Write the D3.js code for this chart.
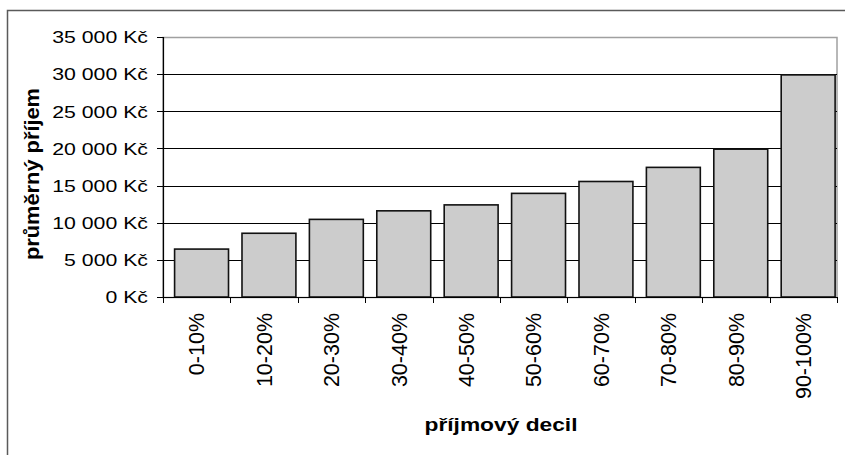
<!DOCTYPE html>
<html>
<head>
<meta charset="utf-8">
<script src="https://cdn.jsdelivr.net/npm/d3@7"></script>
<style>
  html, body { margin: 0; padding: 0; background: #fff; }
  svg { display: block; }
  text { font-family: "Liberation Sans", Arial, sans-serif; fill: #000; }
</style>
</head>
<body>
<svg id="chart" width="845" height="455"></svg>
<script>
const categories = ["0-10%", "10-20%", "20-30%", "30-40%", "40-50%", "50-60%", "60-70%", "70-80%", "80-90%", "90-100%"];
const values = [6450, 8580, 10450, 11600, 12400, 13950, 15550, 17450, 19900, 29900];
const yTicks = [0, 5000, 10000, 15000, 20000, 25000, 30000, 35000];
const yTitle = "průměrný příjem";
const xTitle = "příjmový decil";

const svg = d3.select("#chart");
const plot = { left: 163, right: 837, top: 37, bottom: 297 };

// outer chart frame (clipped by the window)
svg.append("rect")
  .attr("x", 7.5).attr("y", 10.5)
  .attr("width", 1000).attr("height", 1000)
  .attr("fill", "none").attr("stroke", "#5a5a5a").attr("stroke-width", 1.5);

const x = d3.scaleBand().domain(categories).range([plot.left, plot.right]).padding(0);
const y = d3.scaleLinear().domain([0, 35000]).range([plot.bottom, plot.top]);
const fmt = v => (v === 0 ? "0" : d3.format(",")(v).replace(/,/g, " ")) + " Kč";

// plot area border (gray top/right)
svg.append("rect")
  .attr("x", plot.left).attr("y", plot.top + 0.5)
  .attr("width", plot.right - plot.left).attr("height", plot.bottom - plot.top)
  .attr("fill", "none").attr("stroke", "#a0a0a0").attr("stroke-width", 1.5);

// gridlines
svg.append("g").selectAll("line")
  .data(yTicks.filter(t => t > 0 && t < 35000))
  .join("line")
  .attr("x1", plot.left).attr("x2", plot.right)
  .attr("y1", d => Math.round(y(d)) + 0.5).attr("y2", d => Math.round(y(d)) + 0.5)
  .attr("stroke", "#000").attr("stroke-width", 1);

// bars
const bw = x.bandwidth();
svg.append("g").selectAll("rect")
  .data(categories)
  .join("rect")
  .attr("x", d => x(d) + bw * 0.172)
  .attr("width", bw * 0.8)
  .attr("y", (d, i) => y(values[i]))
  .attr("height", (d, i) => y(0) - y(values[i]))
  .attr("fill", "#cccccc").attr("stroke", "#111").attr("stroke-width", 1.6);

// y axis
const yAxis = svg.append("g");
yAxis.append("line")
  .attr("x1", plot.left + 0.5).attr("x2", plot.left + 0.5)
  .attr("y1", plot.top).attr("y2", plot.bottom + 1)
  .attr("stroke", "#000").attr("stroke-width", 1.2);
yAxis.selectAll("line.tick")
  .data(yTicks).join("line").attr("class", "tick")
  .attr("x1", plot.left - 6).attr("x2", plot.left)
  .attr("y1", d => Math.round(y(d)) + 0.5).attr("y2", d => Math.round(y(d)) + 0.5)
  .attr("stroke", "#000").attr("stroke-width", 1);
yAxis.selectAll("text")
  .data(yTicks).join("text")
  .attr("transform", d => `translate(148,${y(d)}) scale(1.23,1)`)
  .attr("text-anchor", "end")
  .attr("dy", "0.36em")
  .style("font-size", "17.3px")
  .text(fmt);

// x axis
const xAxis = svg.append("g");
xAxis.append("line")
  .attr("x1", plot.left).attr("x2", plot.right)
  .attr("y1", plot.bottom + 0.5).attr("y2", plot.bottom + 0.5)
  .attr("stroke", "#000").attr("stroke-width", 1.2);
const boundaries = categories.map(c => x(c)).concat([plot.right]);
xAxis.selectAll("line.tick")
  .data(boundaries).join("line").attr("class", "tick")
  .attr("x1", d => Math.round(d) + 0.5).attr("x2", d => Math.round(d) + 0.5)
  .attr("y1", plot.bottom).attr("y2", plot.bottom + 6)
  .attr("stroke", "#000").attr("stroke-width", 1);
xAxis.selectAll("text")
  .data(categories).join("text")
  .attr("transform", d => `translate(${x(d) + bw / 2},313) rotate(-90)`)
  .attr("text-anchor", "end")
  .attr("dy", "0.36em")
  .style("font-size", "21.5px")
  .text(d => d);

// axis titles
svg.append("text")
  .attr("x", 501).attr("y", 431)
  .attr("text-anchor", "middle")
  .attr("textLength", 153).attr("lengthAdjust", "spacingAndGlyphs")
  .style("font-size", "19px").style("font-weight", "bold")
  .text(xTitle);

svg.append("text")
  .attr("transform", "translate(38.5,174) rotate(-90)")
  .attr("text-anchor", "middle")
  .attr("textLength", 172).attr("lengthAdjust", "spacingAndGlyphs")
  .style("font-size", "20px").style("font-weight", "bold")
  .text(yTitle);
</script>
</body>
</html>
